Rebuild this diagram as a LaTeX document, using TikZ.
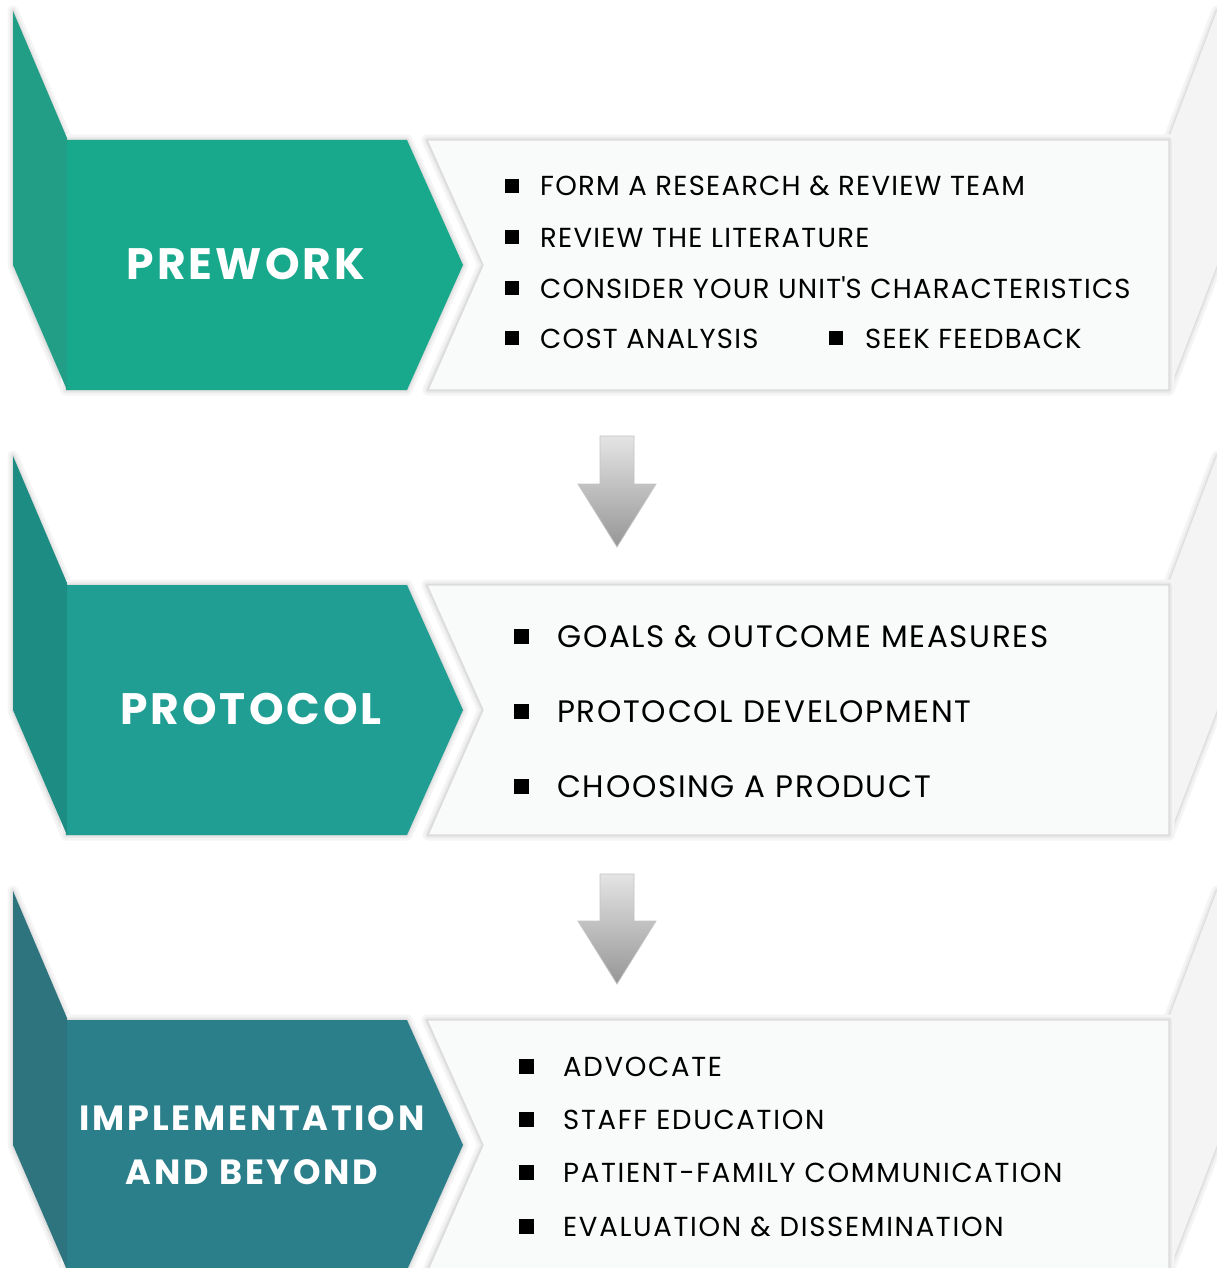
\documentclass[tikz,border=0pt]{standalone}
\usepackage{fontspec}
\setmainfont{Poppins}
\definecolor{preMain}{HTML}{18A98D}
\definecolor{preFold}{HTML}{229E87}
\definecolor{proMain}{HTML}{209E93}
\definecolor{proFold}{HTML}{1D8C82}
\definecolor{impMain}{HTML}{2B7F8B}
\definecolor{impFold}{HTML}{2E747F}
\definecolor{panelFill}{HTML}{F9FAFA}
\definecolor{panelEdge}{HTML}{DCDCDC}
\definecolor{sideFold}{HTML}{F4F4F4}
\definecolor{arrowTop}{HTML}{E4E4E4}
\definecolor{arrowBot}{HTML}{969696}
\definecolor{arrowEdge}{HTML}{C4C4C4}

% square bullet of side #1, vertically centred on the capitals, in a box #2 wide
\newcommand\sqbullet[2]{\makebox[#2][l]{\rule[\dimexpr(\fontcharht\font`H-#1)/2\relax]{#1}{#1}}}

\tikzset{
  shadowonly/.style={
    preaction={draw=black!4, line width=11pt, line join=round},
    preaction={draw=black!8, line width=6pt, line join=round},
    preaction={draw=black!13, line width=2.5pt, line join=round}},
  stagetitle/.style={text=white, inner sep=0pt, align=center},
  bigtitle/.style={stagetitle,
    font=\bfseries\fontsize{44}{54}\selectfont\addfontfeatures{LetterSpace=7}},
  smalltitle/.style={stagetitle,
    font=\bfseries\fontsize{35}{54}\selectfont\addfontfeatures{LetterSpace=8}},
  itemA/.style={anchor=base west, inner sep=0pt, text=black,
    font=\fontsize{27.5}{33}\selectfont\addfontfeatures{LetterSpace=4.5}},
  itemB/.style={anchor=base west, inner sep=0pt, text=black,
    font=\fontsize{31}{36}\selectfont\addfontfeatures{LetterSpace=5.5}},
  itemC/.style={anchor=base west, inner sep=0pt, text=black,
    font=\fontsize{27.5}{33}\selectfont\addfontfeatures{LetterSpace=6.2}},
  downarrow/.style={top color=arrowTop, bottom color=arrowBot,
    draw=arrowEdge, line width=0.8pt}
}

% one stage band: #1 top of the band, #2 main colour, #3 fold colour
\newcommand\stageband[3]{%
  \begin{scope}[shift={(0,#1)}]
    % left fold, shadow first
    \path[shadowonly] (13,-129) -- (66,-2) -- (66,250) -- (13,125) -- cycle;
    % coloured chevron
    \path[shadowonly, fill=#2] (66,0) -- (407,0) -- (463,125) -- (407,250) -- (66,250) -- cycle;
    \fill[#3] (13,-129) -- (67,-2) -- (67,250) -- (13,125) -- cycle;
    % right fold and text panel
    \path[shadowonly, fill=sideFold] (1169,-2) -- (1217,-129) -- (1217,125) -- (1169,250) -- cycle;
    \path[shadowonly, fill=panelFill, draw=panelEdge, line width=1.2pt]
      (427,0) -- (1169,0) -- (1169,250) -- (428,250) -- (483,125) -- cycle;
  \end{scope}}

\begin{document}
\begin{tikzpicture}[x=1pt, y=-1pt]
  \useasboundingbox (0,0) rectangle (1217,1268);
  \clip (0,0) rectangle (1217,1268);
  \fill[white] (0,0) rectangle (1217,1268);

  \stageband{140}{preMain}{preFold}
  \stageband{585}{proMain}{proFold}
  \stageband{1020}{impMain}{impFold}

  % stage titles
  \node[bigtitle] (prework) at (246,264) {PREWORK};
  \node[bigtitle] (protocol) at (251,709) {PROTOCOL};
  \node[smalltitle] (implement) at (252,1145) {IMPLEMENTATION\\AND BEYOND};

  % prework items
  \node[itemA] (pw1) at (505,196) {\sqbullet{14pt}{35pt}FORM A RESEARCH \& REVIEW TEAM};
  \node[itemA] (pw2) at (505,247) {\sqbullet{14pt}{35pt}REVIEW THE LITERATURE};
  \node[itemA] (pw3) at (505,298) {\sqbullet{14pt}{35pt}CONSIDER YOUR UNIT\textquotesingle S CHARACTERISTICS};
  \node[itemA] (pw4) at (505,348) {\sqbullet{14pt}{35pt}COST ANALYSIS};
  \node[itemA] (pw5) at (829,348) {\sqbullet{14pt}{36pt}SEEK FEEDBACK};

  % protocol items
  \node[itemB] (pr1) at (514,647) {\sqbullet{15pt}{43pt}GOALS \& OUTCOME MEASURES};
  \node[itemB] (pr2) at (514,722) {\sqbullet{15pt}{43pt}PROTOCOL DEVELOPMENT};
  \node[itemB] (pr3) at (514,797) {\sqbullet{15pt}{43pt}CHOOSING A PRODUCT};

  % implementation items
  \node[itemC] (im1) at (519,1076) {\sqbullet{15pt}{44pt}ADVOCATE};
  \node[itemC] (im2) at (519,1129) {\sqbullet{15pt}{44pt}STAFF EDUCATION};
  \node[itemC] (im3) at (519,1182) {\sqbullet{15pt}{44pt}PATIENT-FAMILY COMMUNICATION};
  \node[itemC] (im4) at (519,1236) {\sqbullet{15pt}{44pt}EVALUATION \& DISSEMINATION};

  % block arrows between the stages
  \path[downarrow] (600,436) -- (634,436) -- (634,484) -- (656,484) -- (617,547)
    -- (578,484) -- (600,484) -- cycle;
  \path[downarrow] (600,874) -- (634,874) -- (634,921) -- (656,921) -- (617,984)
    -- (578,921) -- (600,921) -- cycle;
\end{tikzpicture}
\end{document}
